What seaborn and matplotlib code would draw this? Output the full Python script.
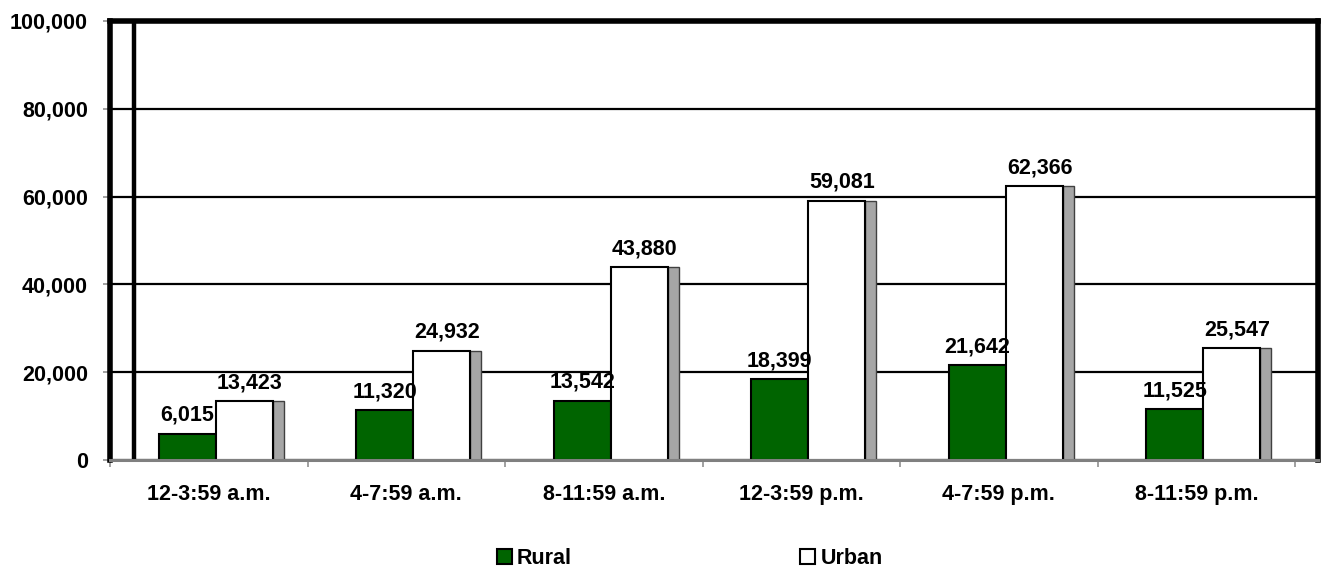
import matplotlib
matplotlib.use("Agg")
import matplotlib.pyplot as plt
from matplotlib.patches import Rectangle, Patch
from matplotlib.ticker import FuncFormatter, FixedLocator
import seaborn as sns
import pandas as pd

# Crashes by time of day, rural vs urban
periods = ["12-3:59 a.m.", "4-7:59 a.m.", "8-11:59 a.m.",
           "12-3:59 p.m.", "4-7:59 p.m.", "8-11:59 p.m."]
rural = [6015, 11320, 13542, 18399, 21642, 11525]
urban = [13423, 24932, 43880, 59081, 62366, 25547]
areas = ["Rural", "Urban"]
colors = {"Rural": "#006400", "Urban": "#FFFFFF"}
y_ticks = [0, 20000, 40000, 60000, 80000, 100000]

df = pd.DataFrame({
    "Period": periods * 2,
    "Crashes": rural + urban,
    "Area": ["Rural"] * len(periods) + ["Urban"] * len(periods),
})

sns.set_theme(style="white")
plt.rcParams["font.family"] = ["Liberation Sans Narrow", "Liberation Sans", "DejaVu Sans"]
plt.rcParams["font.weight"] = "bold"
plt.rcParams["text.color"] = "black"
plt.rcParams["legend.labelcolor"] = "black"
FS = 15.5

W, H = 1329, 571
fig = plt.figure(figsize=(W / 100, H / 100), dpi=100)
ax = fig.add_axes([110 / W, 1 - 460 / H, (1318 - 110) / W, (460 - 21) / H])

sns.barplot(data=df, x="Period", y="Crashes", hue="Area", order=periods,
            hue_order=areas, palette=colors, width=0.578, saturation=1,
            edgecolor="black", linewidth=1.5, ax=ax, zorder=3)
if ax.get_legend() is not None:
    ax.get_legend().remove()

# nudge the bar groups slightly right of the category centres
shift = 0.035
shadow_w = 0.056
for cont, area in zip(ax.containers, areas):
    for p in cont.patches:
        p.set_x(p.get_x() + shift)
        p.set_zorder(3)
        w = p.get_width()
        extra = 0.0
        if area == "Urban":
            ax.add_patch(Rectangle((p.get_x() + w, 0), shadow_w, p.get_height(),
                                   facecolor="#A6A6A6", edgecolor="#404040",
                                   linewidth=1, zorder=2.5))
            extra = shadow_w / 2
        ax.annotate(f"{int(round(p.get_height())):,}",
                    (p.get_x() + w / 2 + extra, p.get_height()),
                    xytext=(0, 5.5), textcoords="offset points",
                    ha="center", va="bottom", fontsize=FS, fontweight="bold",
                    color="black", zorder=5)

ax.set_ylim(0, 100000)
ax.set_xlim(-0.5, 5.616)
ax.set_yticks(y_ticks)
ax.yaxis.set_major_formatter(FuncFormatter(lambda v, _: f"{int(v):,}"))
ax.set_xlabel("")
ax.set_ylabel("")

ax.set_axisbelow(True)
ax.yaxis.grid(True, color="black", linewidth=1.6, zorder=1)
ax.xaxis.grid(False)

# inner vertical rule near the left frame
ax.axvline(-0.378, color="black", linewidth=3.2, zorder=4)

for side in ["top", "right", "left"]:
    ax.spines[side].set_color("black")
    ax.spines[side].set_linewidth(4)
    ax.spines[side].set_visible(True)
ax.spines["bottom"].set_color("#808080")
ax.spines["bottom"].set_linewidth(2.2)
ax.spines["bottom"].set_zorder(4)

ax.tick_params(axis="y", which="major", left=True, length=5, width=1.2,
               color="#909090", pad=11, labelsize=FS)
ax.tick_params(axis="x", which="major", bottom=False, length=0, pad=17,
               labelsize=FS)
ax.xaxis.set_minor_locator(FixedLocator([i - 0.5 for i in range(len(periods) + 1)]))
ax.tick_params(axis="x", which="minor", bottom=True, length=5, width=1.2,
               color="#909090", direction="out")
for lab in ax.get_xticklabels() + ax.get_yticklabels():
    lab.set_fontweight("bold")
    lab.set_color("black")

handles = [Patch(facecolor=colors[a], edgecolor="black", linewidth=1.5) for a in areas]
fig.legend(handles, areas, loc="center", bbox_to_anchor=(0.519, 0.022), ncol=2,
           frameon=False, columnspacing=10.6, handlelength=0.7, handleheight=0.7,
           handletextpad=0.25, labelcolor="black",
           prop={"size": FS, "weight": "bold"})

fig.savefig("out.png", dpi=100)
